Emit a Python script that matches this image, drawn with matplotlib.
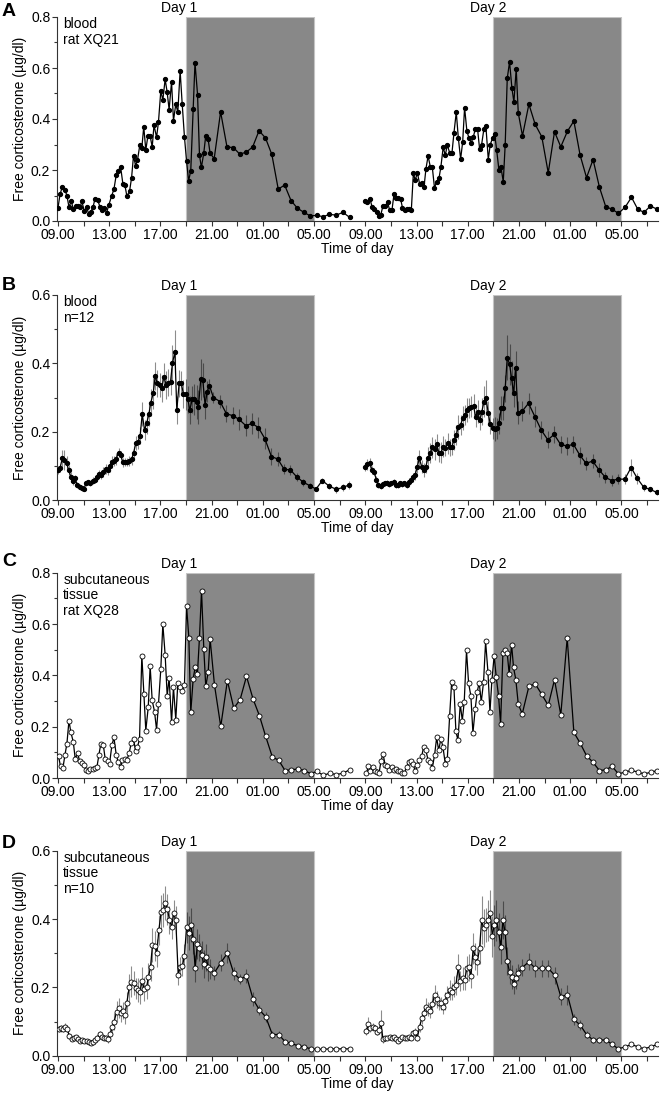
import matplotlib
matplotlib.use("Agg")
import matplotlib.pyplot as plt
from matplotlib.ticker import MultipleLocator, FixedLocator

plt.rcParams['font.family'] = ['Liberation Sans', 'DejaVu Sans']
plt.rcParams['font.size'] = 10

# ---------------- data (hours after 09.00 on day 1) ----------------
a1_t = [0, 0.16, 0.34, 0.55, 0.70, 0.86, 1.04, 1.2, 1.4, 1.6, 1.74, 1.87, 2.05, 2.24, 2.4, 2.57, 2.73, 2.89, 3.1, 3.28,
        3.43, 3.6, 3.8, 3.98, 4.19, 4.37, 4.55, 4.7, 4.89, 5.07, 5.23, 5.38, 5.59, 5.75, 5.9, 6.06, 6.21, 6.4, 6.55, 6.7,
        6.86, 7.02, 7.2, 7.36, 7.5, 7.7, 7.85, 8.03, 8.19, 8.37, 8.53, 8.68, 8.87, 9.02, 9.2, 9.36, 9.54, 9.7, 9.88, 10.04,
        10.2, 10.37, 10.56, 10.7, 10.9, 11.05, 11.2, 11.39, 11.54, 11.73, 11.88, 12.2, 12.7, 13.2, 13.7, 14.2, 14.7, 15.2,
        15.7, 16.2, 16.7, 17.2, 17.7, 18.2, 18.7, 19.2, 19.7, 20.2, 20.7, 21.2, 21.74, 22.25, 22.78]
a1_v = [0.05, 0.104, 0.134, 0.121, 0.10, 0.055, 0.077, 0.048, 0.06, 0.06, 0.056, 0.077, 0.04, 0.053, 0.029, 0.037, 0.053,
        0.086, 0.082, 0.056, 0.043, 0.05, 0.033, 0.064, 0.098, 0.124, 0.18, 0.196, 0.213, 0.146, 0.14, 0.098, 0.116, 0.17,
        0.256, 0.217, 0.239, 0.30, 0.287, 0.37, 0.278, 0.333, 0.333, 0.29, 0.376, 0.328, 0.389, 0.51, 0.474, 0.556, 0.504,
        0.437, 0.546, 0.393, 0.458, 0.427, 0.589, 0.46, 0.328, 0.236, 0.157, 0.197, 0.441, 0.621, 0.496, 0.258, 0.21,
        0.268, 0.335, 0.32, 0.265, 0.245, 0.428, 0.29, 0.288, 0.262, 0.27, 0.29, 0.354, 0.326, 0.261, 0.125, 0.141, 0.08,
        0.05, 0.034, 0.02, 0.022, 0.017, 0.026, 0.023, 0.034, 0.014]
a2_t = [24.0, 24.16, 24.37, 24.52, 24.7, 24.89, 25.04, 25.2, 25.38, 25.56, 25.74, 25.9, 26.08, 26.24, 26.39, 26.58, 26.76,
        26.9, 27.07, 27.25, 27.41, 27.59, 27.75, 27.9, 28.06, 28.24, 28.42, 28.58, 28.73, 28.9, 29.07, 29.23, 29.4, 29.57,
        29.75, 29.9, 30.08, 30.24, 30.4, 30.58, 30.76, 30.92, 31.1, 31.26, 31.44, 31.6, 31.75, 31.93, 32.09, 32.27, 32.43,
        32.58, 32.76, 32.92, 33.08, 33.26, 33.41, 33.6, 33.75, 33.93, 34.09, 34.25, 34.43, 34.58, 34.77, 34.92, 35.08,
        35.26, 35.44, 35.6, 35.78, 35.94, 36.27, 36.77, 37.26, 37.78, 38.28, 38.77, 39.26, 39.78, 40.28, 40.77, 41.27,
        41.78, 42.28, 42.77, 43.27, 43.76, 44.28, 44.78, 45.27, 45.76, 46.26, 46.78]
a2_v = [0.078, 0.073, 0.086, 0.056, 0.047, 0.037, 0.018, 0.023, 0.06, 0.059, 0.073, 0.042, 0.043, 0.106, 0.089, 0.091,
        0.085, 0.052, 0.042, 0.047, 0.047, 0.042, 0.187, 0.16, 0.19, 0.145, 0.148, 0.132, 0.204, 0.255, 0.213, 0.21, 0.13,
        0.154, 0.167, 0.213, 0.29, 0.257, 0.298, 0.268, 0.265, 0.346, 0.427, 0.326, 0.243, 0.31, 0.445, 0.352, 0.326,
        0.307, 0.33, 0.359, 0.362, 0.283, 0.30, 0.362, 0.373, 0.241, 0.30, 0.324, 0.343, 0.28, 0.20, 0.213, 0.154, 0.30,
        0.559, 0.624, 0.523, 0.466, 0.598, 0.424, 0.334, 0.458, 0.379, 0.33, 0.189, 0.35, 0.291, 0.352, 0.392, 0.258,
        0.17, 0.241, 0.132, 0.056, 0.046, 0.03, 0.054, 0.093, 0.046, 0.034, 0.059, 0.046]

b1_t = [0.0, 0.16, 0.34, 0.49, 0.68, 0.83, 1.01, 1.17, 1.35, 1.5, 1.69, 1.85, 2.03, 2.18, 2.37, 2.52, 2.7, 2.86, 3.04,
        3.2, 3.38, 3.54, 3.72, 3.87, 4.06, 4.21, 4.39, 4.55, 4.73, 4.89, 5.07, 5.23, 5.41, 5.56, 5.75, 5.9, 6.08, 6.24,
        6.42, 6.58, 6.76, 6.92, 7.1, 7.25, 7.44, 7.59, 7.77, 7.93, 8.11, 8.27, 8.45, 8.6, 8.79, 8.94, 9.13, 9.28, 9.46,
        9.62, 9.8, 9.96, 10.14, 10.3, 10.48, 10.63, 10.82, 10.97, 11.15, 11.31, 11.49, 11.65, 11.83, 12.14, 12.66, 13.16,
        13.65, 14.14, 14.66, 15.16, 15.65, 16.15, 16.67, 17.16, 17.66, 18.15, 18.64, 19.16, 19.66, 20.15, 20.64, 21.16,
        21.74, 22.26, 22.73]
b1_v = [0.088, 0.093, 0.122, 0.117, 0.109, 0.088, 0.068, 0.056, 0.063, 0.044, 0.039, 0.034, 0.031, 0.049, 0.052, 0.049,
        0.057, 0.06, 0.068, 0.075, 0.073, 0.082, 0.09, 0.088, 0.1, 0.112, 0.115, 0.121, 0.139, 0.132, 0.11, 0.112, 0.112,
        0.115, 0.119, 0.137, 0.166, 0.169, 0.188, 0.252, 0.205, 0.224, 0.251, 0.285, 0.312, 0.363, 0.341, 0.337, 0.327,
        0.361, 0.337, 0.343, 0.346, 0.4, 0.434, 0.263, 0.341, 0.343, 0.31, 0.309, 0.295, 0.263, 0.295, 0.295, 0.288,
        0.273, 0.353, 0.351, 0.277, 0.317, 0.334, 0.3, 0.288, 0.252, 0.247, 0.236, 0.218, 0.224, 0.212, 0.18, 0.127,
        0.12, 0.09, 0.088, 0.068, 0.052, 0.042, 0.032, 0.057, 0.041, 0.031, 0.037, 0.044]
b1_e = [0.012, 0.012, 0.025, 0.03, 0.02, 0.015, 0.015, 0.012, 0.01, 0.01, 0.008, 0.008, 0.006, 0.008, 0.008, 0.008, 0.01,
        0.01, 0.012, 0.012, 0.012, 0.015, 0.015, 0.015, 0.018, 0.018, 0.015, 0.018, 0.012, 0.012, 0.012, 0.012, 0.012,
        0.015, 0.018, 0.02, 0.02, 0.02, 0.025, 0.035, 0.03, 0.03, 0.035, 0.04, 0.045, 0.04, 0.04, 0.035, 0.04, 0.04, 0.04,
        0.04, 0.04, 0.055, 0.065, 0.04, 0.04, 0.035, 0.04, 0.045, 0.04, 0.04, 0.04, 0.045, 0.05, 0.05, 0.06, 0.05, 0.04,
        0.03, 0.02, 0.015, 0.02, 0.025, 0.025, 0.03, 0.03, 0.03, 0.03, 0.03, 0.025, 0.02, 0.015, 0.015, 0.012, 0.01,
        0.008, 0.006, 0.008, 0.01, 0.01, 0.01, 0.012]
b2_t = [24.0, 24.16, 24.34, 24.52, 24.68, 24.86, 25.02, 25.2, 25.35, 25.54, 25.69, 25.87, 26.03, 26.21, 26.37, 26.55,
        26.71, 26.89, 27.04, 27.22, 27.38, 27.56, 27.72, 27.88, 28.06, 28.21, 28.4, 28.55, 28.73, 28.89, 29.07, 29.23,
        29.41, 29.57, 29.75, 29.9, 30.09, 30.24, 30.42, 30.58, 30.76, 30.92, 31.1, 31.26, 31.44, 31.6, 31.78, 31.93,
        32.11, 32.27, 32.45, 32.61, 32.76, 32.95, 33.1, 33.26, 33.41, 33.6, 33.75, 33.93, 34.09, 34.27, 34.43, 34.61,
        34.77, 34.92, 35.08, 35.26, 35.42, 35.57, 35.73, 35.91, 36.25, 36.74, 37.24, 37.73, 38.25, 38.74, 39.24, 39.73,
        40.25, 40.75, 41.24, 41.74, 42.25, 42.75, 43.24, 43.74, 44.26, 44.75, 45.24, 45.74, 46.26, 46.75]
b2_v = [0.096, 0.104, 0.109, 0.088, 0.083, 0.059, 0.044, 0.041, 0.046, 0.049, 0.051, 0.046, 0.049, 0.053, 0.044, 0.044,
        0.049, 0.046, 0.049, 0.044, 0.054, 0.059, 0.066, 0.073, 0.098, 0.122, 0.098, 0.088, 0.098, 0.124, 0.137, 0.154,
        0.148, 0.164, 0.137, 0.139, 0.156, 0.153, 0.166, 0.154, 0.156, 0.176, 0.19, 0.215, 0.22, 0.239, 0.249, 0.263,
        0.27, 0.273, 0.275, 0.244, 0.259, 0.234, 0.259, 0.288, 0.3, 0.254, 0.222, 0.21, 0.207, 0.21, 0.224, 0.268, 0.268,
        0.327, 0.417, 0.398, 0.356, 0.312, 0.387, 0.256, 0.26, 0.283, 0.244, 0.205, 0.176, 0.192, 0.163, 0.158, 0.163,
        0.131, 0.107, 0.114, 0.088, 0.066, 0.057, 0.061, 0.061, 0.095, 0.063, 0.037, 0.031, 0.022]
b2_e = [0.012, 0.015, 0.015, 0.012, 0.01, 0.01, 0.008, 0.008, 0.008, 0.008, 0.008, 0.008, 0.008, 0.008, 0.008, 0.008,
        0.008, 0.008, 0.008, 0.008, 0.01, 0.01, 0.012, 0.015, 0.02, 0.025, 0.02, 0.02, 0.02, 0.03, 0.03, 0.03, 0.03, 0.03,
        0.025, 0.03, 0.03, 0.025, 0.03, 0.025, 0.025, 0.03, 0.03, 0.035, 0.03, 0.035, 0.03, 0.035, 0.03, 0.03, 0.035,
        0.03, 0.035, 0.03, 0.04, 0.045, 0.05, 0.035, 0.03, 0.03, 0.035, 0.03, 0.03, 0.035, 0.035, 0.04, 0.065, 0.06,
        0.05, 0.04, 0.05, 0.035, 0.03, 0.03, 0.03, 0.025, 0.025, 0.025, 0.025, 0.025, 0.025, 0.025, 0.02, 0.02, 0.02,
        0.015, 0.015, 0.015, 0.015, 0.025, 0.015, 0.01, 0.008, 0.006]

c1_t = [0.05, 0.2, 0.39, 0.55, 0.7, 0.86, 1.01, 1.2, 1.35, 1.53, 1.69, 1.85, 2.03, 2.18, 2.37, 2.52, 2.7, 2.86, 3.04, 3.2,
        3.35, 3.54, 3.69, 3.87, 4.03, 4.21, 4.37, 4.55, 4.71, 4.89, 5.04, 5.23, 5.38, 5.56, 5.72, 5.9, 6.06, 6.21, 6.37,
        6.55, 6.71, 6.86, 7.05, 7.2, 7.36, 7.54, 7.7, 7.85, 8.03, 8.19, 8.37, 8.53, 8.68, 8.87, 9.02, 9.2, 9.36, 9.54, 9.7,
        9.88, 10.04, 10.22, 10.37, 10.56, 10.71, 10.89, 11.05, 11.21, 11.39, 11.54, 11.73, 11.88, 12.22, 12.71, 13.23,
        13.73, 14.22, 14.72, 15.24, 15.73, 16.22, 16.74, 17.24, 17.73, 18.23, 18.72, 19.24, 19.73, 20.23, 20.72, 21.22,
        21.74, 22.26, 22.78]
c1_v = [0.084, 0.045, 0.039, 0.091, 0.134, 0.223, 0.178, 0.14, 0.074, 0.097, 0.067, 0.058, 0.049, 0.032, 0.029, 0.035,
        0.035, 0.039, 0.041, 0.091, 0.134, 0.13, 0.074, 0.065, 0.056, 0.127, 0.158, 0.091, 0.061, 0.041, 0.069, 0.074,
        0.069, 0.097, 0.136, 0.153, 0.106, 0.121, 0.152, 0.477, 0.328, 0.185, 0.276, 0.435, 0.302, 0.259, 0.188, 0.288,
        0.424, 0.599, 0.48, 0.32, 0.389, 0.217, 0.354, 0.227, 0.37, 0.353, 0.34, 0.363, 0.671, 0.547, 0.256, 0.387, 0.431,
        0.405, 0.547, 0.729, 0.502, 0.357, 0.412, 0.542, 0.363, 0.201, 0.379, 0.272, 0.305, 0.396, 0.307, 0.243, 0.162,
        0.082, 0.069, 0.029, 0.032, 0.035, 0.029, 0.017, 0.026, 0.01, 0.019, 0.013, 0.019, 0.032]
c2_t = [24.08, 24.24, 24.39, 24.57, 24.73, 24.89, 25.07, 25.22, 25.38, 25.54, 25.72, 25.87, 26.06, 26.21, 26.37, 26.55,
        26.71, 26.89, 27.04, 27.22, 27.38, 27.56, 27.72, 27.9, 28.06, 28.21, 28.4, 28.55, 28.73, 28.89, 29.07, 29.23,
        29.41, 29.57, 29.72, 29.9, 30.06, 30.24, 30.4, 30.58, 30.74, 30.92, 31.07, 31.23, 31.41, 31.57, 31.72, 31.9,
        32.06, 32.24, 32.4, 32.58, 32.74, 32.89, 33.05, 33.23, 33.39, 33.57, 33.73, 33.88, 34.06, 34.22, 34.4, 34.56,
        34.74, 34.9, 35.08, 35.23, 35.42, 35.57, 35.75, 35.94, 36.25, 36.77, 37.26, 37.76, 38.28, 38.77, 39.26, 39.76,
        40.28, 40.77, 41.27, 41.76, 42.28, 42.77, 43.27, 43.76, 44.28, 44.78, 45.27, 45.76, 46.28, 46.78]
c2_v = [0.019, 0.045, 0.029, 0.041, 0.026, 0.022, 0.019, 0.065, 0.095, 0.052, 0.045, 0.032, 0.043, 0.032, 0.035, 0.029,
        0.026, 0.019, 0.019, 0.043, 0.061, 0.065, 0.056, 0.026, 0.049, 0.069, 0.084, 0.121, 0.108, 0.071, 0.061, 0.039,
        0.091, 0.158, 0.108, 0.152, 0.121, 0.056, 0.075, 0.24, 0.376, 0.353, 0.182, 0.147, 0.289, 0.224, 0.296, 0.497,
        0.37, 0.32, 0.175, 0.27, 0.337, 0.372, 0.296, 0.374, 0.532, 0.415, 0.256, 0.38, 0.477, 0.393, 0.32, 0.21, 0.486,
        0.499, 0.486, 0.406, 0.519, 0.431, 0.383, 0.288, 0.25, 0.357, 0.367, 0.327, 0.283, 0.383, 0.246, 0.545, 0.178,
        0.136, 0.087, 0.062, 0.029, 0.032, 0.045, 0.016, 0.023, 0.03, 0.023, 0.016, 0.022, 0.029]

d1_t = [0.05, 0.21, 0.39, 0.55, 0.73, 0.88, 1.07, 1.22, 1.4, 1.56, 1.72, 1.9, 2.05, 2.24, 2.39, 2.57, 2.73, 2.91, 3.07,
        3.25, 3.41, 3.56, 3.74, 3.9, 4.08, 4.24, 4.39, 4.58, 4.73, 4.89, 5.07, 5.23, 5.38, 5.56, 5.72, 5.9, 6.06, 6.24,
        6.4, 6.58, 6.73, 6.92, 7.07, 7.23, 7.38, 7.57, 7.72, 7.88, 8.06, 8.22, 8.37, 8.55, 8.71, 8.87, 9.05, 9.2, 9.39,
        9.54, 9.72, 9.88, 10.04, 10.22, 10.37, 10.56, 10.71, 10.89, 11.05, 11.23, 11.39, 11.57, 11.73, 11.88, 12.22,
        12.71, 13.23, 13.73, 14.22, 14.72, 15.24, 15.73, 16.22, 16.74, 17.24, 17.73, 18.23, 18.72, 19.24, 19.73, 20.23,
        20.72, 21.22, 21.74, 22.26, 22.78]
d1_v = [0.078, 0.08, 0.078, 0.083, 0.078, 0.058, 0.048, 0.051, 0.054, 0.048, 0.044, 0.046, 0.043, 0.044, 0.039, 0.038,
        0.041, 0.046, 0.053, 0.063, 0.056, 0.053, 0.053, 0.048, 0.063, 0.083, 0.1, 0.129, 0.139, 0.124, 0.131, 0.119,
        0.155, 0.2, 0.217, 0.212, 0.197, 0.192, 0.187, 0.22, 0.194, 0.2, 0.231, 0.26, 0.324, 0.321, 0.301, 0.368, 0.421,
        0.426, 0.446, 0.429, 0.397, 0.378, 0.417, 0.397, 0.236, 0.26, 0.262, 0.293, 0.376, 0.358, 0.382, 0.343, 0.256,
        0.327, 0.316, 0.295, 0.268, 0.288, 0.259, 0.254, 0.243, 0.272, 0.3, 0.241, 0.224, 0.233, 0.165, 0.134, 0.114,
        0.062, 0.062, 0.041, 0.036, 0.029, 0.026, 0.02, 0.019, 0.019, 0.02, 0.02, 0.02, 0.02]
d1_e = [0.01, 0.01, 0.01, 0.012, 0.01, 0.008, 0.006, 0.006, 0.006, 0.005, 0.005, 0.005, 0.004, 0.004, 0.004, 0.004, 0.004,
        0.006, 0.008, 0.01, 0.008, 0.008, 0.008, 0.01, 0.015, 0.02, 0.025, 0.03, 0.03, 0.025, 0.025, 0.025, 0.03, 0.04,
        0.045, 0.035, 0.03, 0.035, 0.035, 0.04, 0.035, 0.035, 0.04, 0.04, 0.05, 0.045, 0.04, 0.045, 0.05, 0.05, 0.05,
        0.045, 0.04, 0.035, 0.04, 0.04, 0.03, 0.03, 0.03, 0.035, 0.045, 0.05, 0.05, 0.045, 0.04, 0.045, 0.04, 0.04, 0.04,
        0.04, 0.04, 0.03, 0.02, 0.025, 0.03, 0.02, 0.015, 0.02, 0.02, 0.015, 0.015, 0.01, 0.01, 0.008, 0.006, 0.005,
        0.004, 0.004, 0.003, 0.003, 0.003, 0.003, 0.003, 0.003]
d2_t = [24.08, 24.24, 24.39, 24.57, 24.73, 24.89, 25.07, 25.22, 25.38, 25.56, 25.72, 25.9, 26.06, 26.24, 26.39, 26.58,
        26.73, 26.89, 27.07, 27.22, 27.41, 27.56, 27.72, 27.9, 28.06, 28.24, 28.4, 28.55, 28.73, 28.89, 29.07, 29.23,
        29.41, 29.57, 29.72, 29.9, 30.06, 30.24, 30.4, 30.58, 30.74, 30.92, 31.07, 31.26, 31.41, 31.6, 31.75, 31.93,
        32.09, 32.24, 32.42, 32.58, 32.74, 32.92, 33.08, 33.23, 33.41, 33.57, 33.75, 33.91, 34.06, 34.24, 34.4, 34.58,
        34.74, 34.92, 35.08, 35.26, 35.42, 35.6, 35.75, 35.94, 36.25, 36.77, 37.26, 37.78, 38.28, 38.77, 39.26, 39.78,
        40.28, 40.77, 41.27, 41.78, 42.28, 42.77, 43.27, 43.76, 44.28, 44.78, 45.27, 45.76, 46.28, 46.78]
d2_v = [0.073, 0.092, 0.08, 0.085, 0.08, 0.07, 0.075, 0.095, 0.048, 0.051, 0.053, 0.054, 0.051, 0.054, 0.048, 0.044,
        0.05, 0.054, 0.053, 0.051, 0.056, 0.053, 0.065, 0.07, 0.053, 0.085, 0.109, 0.126, 0.143, 0.137, 0.131, 0.151,
        0.178, 0.165, 0.155, 0.153, 0.143, 0.16, 0.178, 0.192, 0.187, 0.202, 0.207, 0.259, 0.219, 0.226, 0.221, 0.256,
        0.259, 0.233, 0.314, 0.29, 0.275, 0.314, 0.397, 0.373, 0.382, 0.397, 0.419, 0.35, 0.382, 0.397, 0.363, 0.319,
        0.397, 0.361, 0.277, 0.244, 0.231, 0.21, 0.226, 0.243, 0.258, 0.275, 0.256, 0.256, 0.256, 0.236, 0.173, 0.178,
        0.106, 0.09, 0.062, 0.046, 0.046, 0.046, 0.033, 0.02, 0.026, 0.033, 0.026, 0.02, 0.026, 0.033]
d2_e = [0.012, 0.02, 0.012, 0.012, 0.01, 0.01, 0.01, 0.04, 0.01, 0.008, 0.006, 0.006, 0.006, 0.006, 0.006, 0.006, 0.006,
        0.006, 0.006, 0.006, 0.006, 0.008, 0.01, 0.012, 0.01, 0.015, 0.015, 0.02, 0.025, 0.02, 0.02, 0.025, 0.03, 0.025,
        0.02, 0.02, 0.02, 0.025, 0.025, 0.03, 0.025, 0.03, 0.03, 0.04, 0.03, 0.035, 0.03, 0.035, 0.04, 0.035, 0.045, 0.04,
        0.04, 0.045, 0.07, 0.055, 0.05, 0.06, 0.065, 0.06, 0.06, 0.06, 0.055, 0.05, 0.055, 0.05, 0.04, 0.035, 0.035, 0.03,
        0.03, 0.025, 0.025, 0.025, 0.025, 0.025, 0.025, 0.025, 0.025, 0.03, 0.015, 0.015, 0.01, 0.008, 0.008, 0.008,
        0.006, 0.004, 0.005, 0.006, 0.005, 0.004, 0.005, 0.006]

tick_hours = [0, 4, 8, 12, 16, 20, 24, 28, 32, 36, 40, 44]
tick_labels = ['09.00', '13.00', '17.00', '21.00', '01.00', '05.00'] * 2
dark_periods = [(10, 20), (34, 44)]
day_labels = ['Day 1', 'Day 2']
day_label_pos = [9.5, 33.6]

panels = [
    dict(letter='A', note='blood\nrat XQ21', ymax=0.8, segs=[(a1_t, a1_v, None), (a2_t, a2_v, None)], filled=True),
    dict(letter='B', note='blood\nn=12', ymax=0.6, segs=[(b1_t, b1_v, b1_e), (b2_t, b2_v, b2_e)], filled=True),
    dict(letter='C', note='subcutaneous\ntissue\nrat XQ28', ymax=0.8, segs=[(c1_t, c1_v, None), (c2_t, c2_v, None)], filled=False),
    dict(letter='D', note='subcutaneous\ntissue\nn=10', ymax=0.6, segs=[(d1_t, d1_v, d1_e), (d2_t, d2_v, d2_e)], filled=False),
]

W, H = 660, 1094
fig = plt.figure(figsize=(W / 100, H / 100), dpi=100)
ax_tops = [17, 295, 572.7, 850.7]
ax_bottoms = [221, 500, 778, 1055.7]
letter_tops = [3, 277, 553, 835]
left_px, right_px = 57.3, 658

for p, top, bot, ltop in zip(panels, ax_tops, ax_bottoms, letter_tops):
    ax = fig.add_axes([left_px / W, 1 - bot / H, (right_px - left_px) / W, (bot - top) / H])
    for (x0, x1) in dark_periods:
        ax.axvspan(x0, x1, ymin=0, ymax=1, facecolor='#888888', edgecolor='#c4c4c4', lw=0.8, zorder=0)
    for t, v, e in p['segs']:
        assert len(t) == len(v), (p['letter'], len(t), len(v))
        if e is not None:
            assert len(e) == len(v), (p['letter'], 'err', len(e), len(v))
            ax.errorbar(t, v, yerr=e, fmt='none', ecolor='black', alpha=0.45, elinewidth=0.8, capsize=0, zorder=2)
        if p['filled']:
            ax.plot(t, v, '-', color='black', lw=0.9, marker='o', ms=2.8, mfc='black', mec='black', zorder=3)
        else:
            ax.plot(t, v, '-', color='black', lw=0.9, marker='o', ms=3.6, mfc='white', mec='black', mew=0.6, zorder=3)
    ax.set_xlim(-0.05, 46.85)
    ax.set_ylim(0, p['ymax'])
    ax.yaxis.set_major_locator(MultipleLocator(0.2))
    ax.yaxis.set_minor_locator(MultipleLocator(0.1))
    ax.yaxis.set_major_formatter(matplotlib.ticker.FormatStrFormatter('%.1f'))
    ax.xaxis.set_major_locator(FixedLocator(tick_hours))
    ax.set_xticklabels(tick_labels)
    ax.xaxis.set_minor_locator(FixedLocator([h + 2 for h in tick_hours]))
    ax.tick_params(axis='both', which='major', direction='out', length=3.5, width=0.8, labelsize=10, pad=1.5, color='#333333')
    ax.tick_params(axis='x', which='minor', direction='out', length=3.5, width=0.8, color='#333333')
    ax.tick_params(axis='y', which='minor', direction='out', length=2, width=0.8, color='#333333')
    for s in ['top', 'right']:
        ax.spines[s].set_visible(False)
    for s in ['left', 'bottom']:
        ax.spines[s].set_linewidth(0.8)
        ax.spines[s].set_color('#333333')
    ax.set_ylabel('Free corticosterone (µg/dl)', fontsize=10, labelpad=3)
    ax.set_xlabel('Time of day', fontsize=10, labelpad=0)
    ax.text(0.01, 1.0, p['note'], transform=ax.transAxes, ha='left', va='top', fontsize=10, linespacing=1.15)
    for lab, xp in zip(day_labels, day_label_pos):
        ax.text(xp, p['ymax'] * 1.008, lab, ha='center', va='bottom', fontsize=10, clip_on=False)
    fig.text(2 / W, 1 - ltop / H, p['letter'], ha='left', va='top', fontsize=14, fontweight='bold')

fig.savefig('out.png', dpi=100)
